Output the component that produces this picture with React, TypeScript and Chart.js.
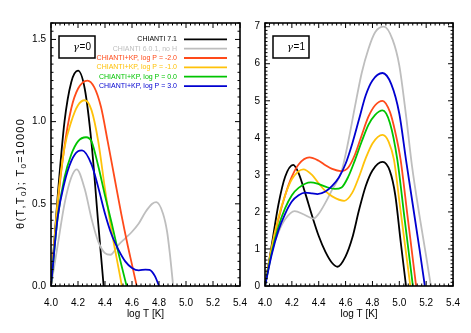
import React, { useEffect, useRef } from 'react';
import { Chart, registerables } from 'chart.js';

Chart.register(...registerables);

type Pt = [number, number];

// ---------------- data ----------------
const seriesNames = [
  'CHIANTI 7.1',
  'CHIANTI 6.0.1, no H',
  'CHIANTI+KP, log P = -2.0',
  'CHIANTI+KP, log P = -1.0',
  'CHIANTI+KP, log P = 0.0',
  'CHIANTI+KP, log P = 3.0',
];

const xTickStep = 0.2;
const xMin = 4.0;
const xMax = 5.4;

// gamma = 0 panel  [log T, theta]
const g0Chianti71: Pt[] = [[4.0, 0], [4.05, 0.55], [4.1, 1.0], [4.15, 1.24], [4.2, 1.31], [4.25, 1.2], [4.3, 0.87], [4.35, 0.38], [4.39, 0]];
const g0Chianti601: Pt[] = [[4.0, 0], [4.05, 0.25], [4.1, 0.5], [4.15, 0.66], [4.19, 0.71], [4.25, 0.59], [4.3, 0.41], [4.35, 0.27], [4.4, 0.2], [4.44, 0.19], [4.5, 0.25], [4.55, 0.29], [4.6, 0.33], [4.65, 0.38], [4.7, 0.45], [4.75, 0.5], [4.78, 0.51], [4.83, 0.44], [4.86, 0.33], [4.88, 0.2], [4.905, 0]];
const g0KpM2: Pt[] = [[4.0, 0], [4.05, 0.5], [4.1, 0.85], [4.15, 1.08], [4.2, 1.2], [4.27, 1.25], [4.32, 1.21], [4.37, 1.09], [4.42, 0.88], [4.47, 0.66], [4.52, 0.44], [4.57, 0.24], [4.6, 0.13], [4.635, 0]];
const g0KpM1: Pt[] = [[4.0, 0], [4.05, 0.52], [4.1, 0.84], [4.15, 1.0], [4.2, 1.1], [4.25, 1.13], [4.3, 1.07], [4.35, 0.88], [4.4, 0.59], [4.45, 0.33], [4.5, 0.11], [4.525, 0]];
const g0Kp0: Pt[] = [[4.0, 0], [4.05, 0.42], [4.1, 0.66], [4.15, 0.8], [4.2, 0.88], [4.26, 0.905], [4.3, 0.88], [4.35, 0.73], [4.4, 0.55], [4.45, 0.38], [4.5, 0.2], [4.56, 0]];
const g0Kp3: Pt[] = [[4.0, 0], [4.05, 0.42], [4.1, 0.63], [4.15, 0.76], [4.2, 0.82], [4.23, 0.825], [4.3, 0.74], [4.35, 0.6], [4.4, 0.44], [4.45, 0.31], [4.5, 0.22], [4.55, 0.15], [4.6, 0.11], [4.65, 0.095], [4.7, 0.1], [4.73, 0.098], [4.77, 0.06], [4.8, 0]];

// gamma = 1 panel
const g1Chianti71: Pt[] = [[4.0, 0], [4.05, 1.1], [4.1, 2.2], [4.15, 2.95], [4.21, 3.27], [4.25, 3.05], [4.3, 2.5], [4.35, 1.9], [4.4, 1.35], [4.45, 0.92], [4.5, 0.62], [4.54, 0.52], [4.6, 0.8], [4.65, 1.3], [4.7, 2.05], [4.75, 2.7], [4.8, 3.12], [4.875, 3.35], [4.93, 3.1], [4.97, 2.45], [5.01, 1.2], [5.05, 0]];
const g1Chianti601: Pt[] = [[4.0, 0], [4.05, 0.95], [4.1, 1.45], [4.15, 1.8], [4.22, 2.02], [4.29, 1.93], [4.36, 1.82], [4.4, 1.95], [4.45, 2.25], [4.5, 2.6], [4.57, 3.1], [4.62, 3.9], [4.67, 4.85], [4.72, 5.75], [4.77, 6.4], [4.82, 6.85], [4.885, 7.0], [4.95, 6.65], [5.0, 5.95], [5.05, 4.6], [5.094, 3.25], [5.15, 1.9], [5.2, 0.8], [5.235, 0]];
const g1KpM2: Pt[] = [[4.0, 0], [4.05, 1.0], [4.1, 1.8], [4.15, 2.45], [4.2, 2.95], [4.25, 3.28], [4.33, 3.47], [4.4, 3.38], [4.45, 3.26], [4.5, 3.16], [4.565, 3.1], [4.62, 3.2], [4.67, 3.55], [4.72, 4.07], [4.77, 4.57], [4.82, 4.88], [4.875, 5.0], [4.93, 4.7], [4.97, 4.15], [5.01, 3.4], [5.06, 1.92], [5.1, 0.74], [5.125, 0]];
const g1KpM1: Pt[] = [[4.0, 0], [4.05, 1.05], [4.1, 1.85], [4.15, 2.45], [4.2, 2.88], [4.285, 3.15], [4.35, 3.0], [4.4, 2.77], [4.45, 2.56], [4.5, 2.42], [4.59, 2.3], [4.65, 2.52], [4.7, 2.95], [4.75, 3.45], [4.8, 3.85], [4.875, 4.08], [4.92, 3.9], [4.96, 3.41], [5.0, 2.3], [5.04, 1.17], [5.082, 0]];
const g1Kp0: Pt[] = [[4.0, 0], [4.05, 0.9], [4.1, 1.6], [4.15, 2.1], [4.2, 2.45], [4.25, 2.65], [4.34, 2.8], [4.4, 2.75], [4.45, 2.68], [4.52, 2.62], [4.57, 2.66], [4.62, 2.95], [4.67, 3.4], [4.72, 3.9], [4.77, 4.35], [4.82, 4.62], [4.875, 4.74], [4.93, 4.4], [4.985, 3.41], [5.04, 1.79], [5.101, 0]];
const g1Kp3: Pt[] = [[4.0, 0], [4.05, 0.85], [4.1, 1.5], [4.15, 1.95], [4.2, 2.28], [4.25, 2.45], [4.3, 2.52], [4.35, 2.5], [4.39, 2.48], [4.45, 2.55], [4.5, 2.7], [4.55, 2.93], [4.6, 3.3], [4.65, 3.85], [4.7, 4.5], [4.75, 5.15], [4.8, 5.55], [4.875, 5.75], [4.94, 5.45], [5.0, 4.65], [5.05, 3.4], [5.1, 2.2], [5.15, 1.0], [5.19, 0]];

const gamma0Series = [g0Chianti71, g0Chianti601, g0KpM2, g0KpM1, g0Kp0, g0Kp3];
const gamma1Series = [g1Chianti71, g1Chianti601, g1KpM2, g1KpM1, g1Kp0, g1Kp3];

// ---------------- styles ----------------
const W = 471;
const H = 333;
const FONT = '"Liberation Sans", Arial, Helvetica, sans-serif';
const colors = ['#000000', '#bebebe', '#ff4a1a', '#ffc20a', '#00c400', '#0000d0'];

type PanelCfg = {
  key: string;
  series: Pt[][];
  area: { left: number; right: number; top: number; bottom: number };
  yMax: number;
  yStep: number;
  yMinorPerMajor: number;
  yDecimals: number;
  gammaLabel: string;
  showLegend: boolean;
  showYTitle: boolean;
};

const panels: PanelCfg[] = [
  {
    key: 'g0', series: gamma0Series,
    area: { left: 51, right: 240, top: 23, bottom: 286 },
    yMax: 1.6, yStep: 0.5, yMinorPerMajor: 10, yDecimals: 1,
    gammaLabel: '0', showLegend: true, showYTitle: true,
  },
  {
    key: 'g1', series: gamma1Series,
    area: { left: 265, right: 457, top: 23, bottom: 286 },
    yMax: 7.1, yStep: 1, yMinorPerMajor: 10, yDecimals: 0,
    gammaLabel: '1', showLegend: false, showYTitle: false,
  },
];

function line(ctx: CanvasRenderingContext2D, x1: number, y1: number, x2: number, y2: number) {
  ctx.beginPath();
  ctx.moveTo(x1, y1);
  ctx.lineTo(x2, y2);
  ctx.stroke();
}

function makeDecor(cfg: PanelCfg) {
  return {
    id: 'decor_' + cfg.key,
    afterDraw(chart: any) {
      const ctx: CanvasRenderingContext2D = chart.ctx;
      const a = chart.chartArea;
      const xs = chart.scales.x;
      const ys = chart.scales.y;
      ctx.save();
      ctx.strokeStyle = '#000';
      ctx.fillStyle = '#000';
      ctx.lineWidth = 1;
      // x ticks (inside, top and bottom)
      const xMinorPer = 6;
      const nx = Math.round((xMax - xMin) / (xTickStep / xMinorPer));
      for (let i = 0; i <= nx; i++) {
        const v = xMin + (i * xTickStep) / xMinorPer;
        const len = i % xMinorPer === 0 ? 5 : 2.5;
        const px = xs.getPixelForValue(v);
        line(ctx, px, a.bottom, px, a.bottom - len);
        line(ctx, px, a.top, px, a.top + len);
      }
      // y ticks (inside, left and right)
      const yMinor = cfg.yStep / cfg.yMinorPerMajor;
      const ny = Math.floor(cfg.yMax / yMinor + 1e-6);
      for (let i = 0; i <= ny; i++) {
        const v = i * yMinor;
        const len = i % cfg.yMinorPerMajor === 0 ? 5 : 2.5;
        const py = ys.getPixelForValue(v);
        line(ctx, a.left, py, a.left + len, py);
        line(ctx, a.right, py, a.right - len, py);
      }
      // frame
      ctx.lineWidth = 1.6;
      ctx.strokeRect(a.left, a.top, a.right - a.left, a.bottom - a.top);

      // gamma box
      const bx = a.left + 8;
      const by = 36;
      const bw = 36;
      const bh = 22;
      ctx.lineWidth = 1.5;
      ctx.strokeRect(bx, by, bw, bh);
      ctx.textBaseline = 'middle';
      ctx.font = `10px ${FONT}`;
      const rest = '=' + cfg.gammaLabel;
      const restW = ctx.measureText(rest).width;
      ctx.textAlign = 'left';
      const rightEdge = bx + bw - 4;
      ctx.fillText(rest, rightEdge - restW, by + bh / 2 + 0.5);
      ctx.font = `italic 10px "DejaVu Serif", serif`;
      const gW = ctx.measureText('γ').width;
      ctx.fillText('γ', rightEdge - restW - gW - 0.5, by + bh / 2 + 0.5);

      // legend
      if (cfg.showLegend) {
        ctx.font = `7px ${FONT}`;
        ctx.textAlign = 'right';
        ctx.textBaseline = 'middle';
        ctx.lineWidth = 1.8;
        seriesNames.forEach((name, i) => {
          const y = 39.3 + i * 9.35;
          ctx.fillStyle = colors[i];
          ctx.strokeStyle = colors[i];
          ctx.fillText(name, 177, y);
          line(ctx, 184, y, 227, y);
        });
      }

      // x title
      ctx.fillStyle = '#000';
      ctx.font = `10px ${FONT}`;
      ctx.textAlign = 'center';
      ctx.textBaseline = 'middle';
      ctx.fillText('log T [K]', (a.left + a.right) / 2, 314);

      // y title
      if (cfg.showYTitle) {
        const parts: { t: string; sub: boolean }[] = [
          { t: 'θ(T,T', sub: false },
          { t: '0', sub: true },
          { t: '); T', sub: false },
          { t: '0', sub: true },
          { t: '=10000', sub: false },
        ];
        const mainFont = `11px ${FONT}`;
        const subFont = `8px ${FONT}`;
        let natural = 0;
        let nChars = 0;
        parts.forEach((p) => {
          ctx.font = p.sub ? subFont : mainFont;
          natural += ctx.measureText(p.t).width;
          nChars += p.t.length;
        });
        const target = 110;
        const gap = Math.max(0, (target - natural) / nChars);
        ctx.translate(20.7, 174);
        ctx.rotate(-Math.PI / 2);
        ctx.textAlign = 'left';
        ctx.textBaseline = 'middle';
        let x = -target / 2;
        parts.forEach((p) => {
          ctx.font = p.sub ? subFont : mainFont;
          for (const ch of p.t) {
            ctx.fillText(ch, x, p.sub ? 3 : 0);
            x += ctx.measureText(ch).width + gap;
          }
        });
      }
      ctx.restore();
    },
  };
}

function Panel({ cfg }: { cfg: PanelCfg }) {
  const ref = useRef<HTMLCanvasElement | null>(null);
  useEffect(() => {
    const canvas = ref.current;
    if (!canvas) return;
    const a = cfg.area;
    const chart = new Chart(canvas, {
      type: 'line',
      data: {
        datasets: cfg.series.map((pts, i) => ({
          label: seriesNames[i],
          data: pts.map(([x, y]) => ({ x, y })),
          borderColor: colors[i],
          backgroundColor: colors[i],
          borderWidth: 1.8,
          pointRadius: 0,
          fill: false,
          cubicInterpolationMode: 'monotone',
          order: cfg.series.length - i,
        })),
      },
      options: {
        animation: false,
        responsive: false,
        maintainAspectRatio: false,
        events: [],
        layout: { padding: { left: 0, top: a.top, right: W - a.right, bottom: 0 } },
        plugins: { legend: { display: false }, tooltip: { enabled: false } },
        scales: {
          x: {
            type: 'linear',
            min: xMin,
            max: xMax,
            afterFit: (s: any) => { s.height = H - a.bottom; },
            grid: { display: false, drawTicks: false },
            border: { display: false },
            ticks: {
              stepSize: xTickStep,
              autoSkip: false,
              maxRotation: 0,
              includeBounds: false,
              padding: 11,
              color: '#000',
              font: { family: FONT, size: 10 },
              callback: (v: any) => Number(v).toFixed(1),
            },
          },
          y: {
            type: 'linear',
            min: 0,
            max: cfg.yMax,
            afterFit: (s: any) => { s.width = a.left; },
            grid: { display: false, drawTicks: false },
            border: { display: false },
            ticks: {
              stepSize: cfg.yStep,
              includeBounds: false,
              autoSkip: false,
              padding: 5,
              color: '#000',
              font: { family: FONT, size: 10 },
              callback: (v: any) => Number(v).toFixed(cfg.yDecimals),
            },
          },
        },
      } as any,
      plugins: [makeDecor(cfg)],
    });
    return () => chart.destroy();
  }, [cfg]);
  return (
    <canvas
      ref={ref}
      width={W}
      height={H}
      style={{ position: 'absolute', left: 0, top: 0, width: W, height: H }}
    />
  );
}

export default function App() {
  return (
    <div style={{ position: 'fixed', left: 0, top: 0, width: W, height: H, background: '#fff' }}>
      {panels.map((p) => (
        <Panel key={p.key} cfg={p} />
      ))}
    </div>
  );
}
